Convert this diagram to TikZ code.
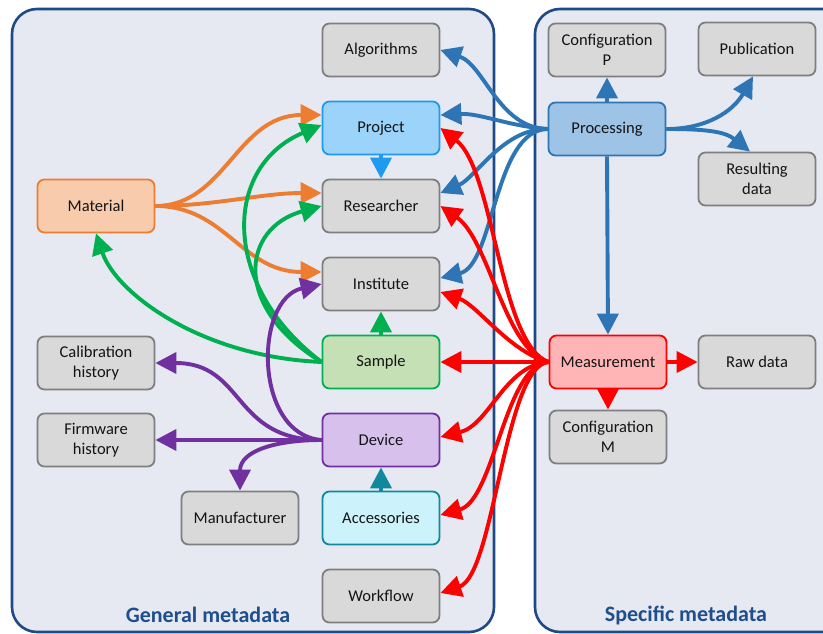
\documentclass[tikz,border=0pt]{standalone}
\usepackage{fontspec}
\setmainfont{Carlito}
\usetikzlibrary{arrows.meta}
\definecolor{panelfill}{HTML}{E6E9F2}
\definecolor{panelline}{HTML}{1F4A85}
\definecolor{grayfill}{HTML}{D9D9D9}
\definecolor{grayline}{HTML}{7F7F7F}
\definecolor{projfill}{HTML}{9BD3FB}
\definecolor{projline}{HTML}{1E9BF0}
\definecolor{matfill}{HTML}{F8CBAD}
\definecolor{matline}{HTML}{ED7D31}
\definecolor{samfill}{HTML}{C5E0B4}
\definecolor{samline}{HTML}{00B050}
\definecolor{devfill}{HTML}{D7C1EC}
\definecolor{devline}{HTML}{7030A0}
\definecolor{accfill}{HTML}{CCF2FC}
\definecolor{accline}{HTML}{10899E}
\definecolor{procfill}{HTML}{9DC3E6}
\definecolor{procline}{HTML}{2E75B6}
\definecolor{measfill}{HTML}{FFB5B5}
\definecolor{measline}{HTML}{FF0000}
\definecolor{labelblue}{HTML}{1F4E8C}
\begin{document}
\begin{tikzpicture}[x=1pt,y=-1pt,
  box/.style={draw=grayline, fill=grayfill, rounded corners=7pt, line width=1.8pt,
    minimum width=117pt, minimum height=53pt, inner sep=2pt, align=center,
    font=\fontsize{16.5}{20}\selectfont, text=black!92},
  panel/.style={draw=panelline, fill=panelfill, line width=2.6pt, rounded corners=25pt},
  paneltitle/.style={font=\bfseries\fontsize{22}{26}\selectfont, text=labelblue},
  conn/.style={line width=3.9pt, -{Triangle[length=21pt,width=21pt]}},
]
\useasboundingbox (0,0) rectangle (823,634);
\clip (0,0) rectangle (823,634);
% panels
\draw[panel] (12,9) rectangle (494,632);
\draw[panel] (535,9) rectangle (870,632);
\node[paneltitle] (gen) at (208,615) {General metadata};
\node[paneltitle] (spec) at (686,615) {Specific metadata};
% nodes
\node[box] (alg) at (381,50) {Algorithms};
\node[box, draw=projline, fill=projfill] (proj) at (381,128) {Project};
\node[box] (res) at (381,206) {Researcher};
\node[box] (inst) at (381,284) {Institute};
\node[box, draw=matline, fill=matfill] (mat) at (96,206) {Material};
\node[box, draw=samline, fill=samfill] (sam) at (381,362) {Sample};
\node[box, draw=devline, fill=devfill] (dev) at (381,440) {Device};
\node[box, draw=accline, fill=accfill] (acc) at (381,518) {Accessories};
\node[box] (wf) at (381,596) {Workflow};
\node[box] (cal) at (96,363) {Calibration\\history};
\node[box] (fw) at (96,440) {Firmware\\history};
\node[box] (man) at (240,518) {Manufacturer};
\node[box] (cfgp) at (607,50) {Configuration\\P};
\node[box] (pub) at (757,49) {Publication};
\node[box, draw=procline, fill=procfill] (proc) at (607,129) {Processing};
\node[box] (resd) at (757,179) {Resulting\\data};
\node[box, draw=measline, fill=measfill] (meas) at (608,362) {Measurement};
\node[box] (raw) at (757,362) {Raw data};
\node[box] (cfgm) at (608,437) {Configuration\\M};
% orange
\draw[conn, matline] (mat.east) .. controls +(70,0) and +(-85,0) .. ([yshift=13pt]proj.west);
\draw[conn, matline] (mat.east) .. controls +(60,0) and +(-60,0) .. ([yshift=13pt]res.west);
\draw[conn, matline] (mat.east) .. controls +(70,0) and +(-80,0) .. ([yshift=12pt]inst.west);
% green
\draw[conn, samline] (sam.west) .. controls +(-120,-5) and +(20,60) .. (mat.south);
\draw[conn, samline] (sam.west) .. controls +(-100,-75) and +(-100,42) .. ([yshift=3pt]proj.west);
\draw[conn, samline] (sam.west) .. controls +(-90,-55) and +(-80,22) .. (res.west);
\draw[conn, samline] (sam.north) -- (inst.south);
% light blue
\draw[conn, projline] (proj.south) -- (res.north);
% purple
\draw[conn, devline] (dev.west) .. controls +(-68,-5) and +(-68,15) .. (inst.west);
\draw[conn, devline] (dev.west) .. controls +(-90,0) and +(90,0) .. (cal.east);
\draw[conn, devline] (dev.west) -- (fw.east);
\draw[conn, devline] (dev.west) .. controls +(-45,0) and +(0,-40) .. (man.north);
% teal
\draw[conn, accline] (acc.north) -- (dev.south);
% blue
\draw[conn, procline] (proc.west) .. controls +(-49,-1) and +(44,15) .. (alg.east);
\draw[conn, procline] (proc.west) .. controls +(-40,-3) and +(40,-2) .. ([yshift=13pt]proj.east);
\draw[conn, procline] (proc.west) .. controls +(-44,-1) and +(35,-15) .. ([yshift=13pt]res.east);
\draw[conn, procline] (proc.west) .. controls +(-54,1) and +(54,-13) .. ([yshift=6pt]inst.east);
\draw[conn, procline] (proc.north) -- (cfgp.south);
\draw[conn, procline] (proc.south) -- (meas.north);
\draw[conn, procline] (proc.east) .. controls +(40,0) and +(-20,35) .. ([xshift=-4pt]pub.south);
\draw[conn, procline] (proc.east) .. controls +(40,0) and +(-25,-20) .. ([xshift=-7pt]resd.north);
% red
\draw[conn, measline] (meas.west) .. controls +(-49,-17) and +(54,42) .. (proj.east);
\draw[conn, measline] (meas.west) .. controls +(-44,-12) and +(49,34) .. (res.east);
\draw[conn, measline] (meas.west) .. controls +(-39,-10) and +(37,13) .. ([yshift=-8pt]inst.east);
\draw[conn, measline] (meas.west) -- (sam.east);
\draw[conn, measline] (meas.west) .. controls +(-44,3) and +(49,-12) .. ([yshift=3pt]dev.east);
\draw[conn, measline] (meas.west) .. controls +(-44,3) and +(54,-15) .. ([yshift=3pt]acc.east);
\draw[conn, measline] (meas.west) .. controls +(-44,3) and +(54,-18) .. ([yshift=3pt]wf.east);
\draw[conn, measline] (meas.east) -- (raw.west);
\draw[conn, measline] (meas.south) -- (cfgm.north);
\end{tikzpicture}
\end{document}
